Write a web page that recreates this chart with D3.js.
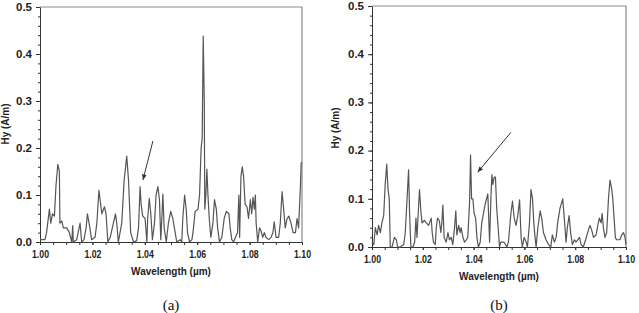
<!DOCTYPE html>
<html>
<head>
<meta charset="utf-8">
<script src="https://cdn.jsdelivr.net/npm/d3@7"></script>
<style>
    body { margin: 0; background: #fff; }
    .axis text { font-family: "Liberation Sans", Arial, sans-serif; font-weight: bold; font-size: 10.5px; fill: #222; }
    .axis path, .axis line { stroke: #333; }
    .axis-title { font-family: "Liberation Sans", Arial, sans-serif; font-weight: bold; font-size: 10px; fill: #222; }
    .caption { font-family: "Liberation Serif", "Times New Roman", serif; font-size: 15px; fill: #111; }
</style>
</head>
<body>
<div id="chart"></div>
<script>

// panel (a): wavelength (um) and Hy (A/m)
let waveA = [1.0000, 1.0019, 1.0025, 1.0036, 1.0041, 1.0048, 1.0055, 1.0061, 1.0068, 1.0074, 1.0076, 1.0083,
    1.0089, 1.0102, 1.0112, 1.0121, 1.0125, 1.0127, 1.0140, 1.0153, 1.0159, 1.0168, 1.0176, 1.0181, 1.0189,
    1.0197, 1.0210, 1.0217, 1.0225, 1.0236, 1.0246, 1.0252, 1.0259, 1.0268, 1.0280, 1.0288, 1.0293, 1.0299,
    1.0312, 1.0321, 1.0331, 1.0338, 1.0346, 1.0357, 1.0369, 1.0376, 1.0382, 1.0386, 1.0392, 1.0401, 1.0408,
    1.0411, 1.0417, 1.0423, 1.0429, 1.0437, 1.0443, 1.0450, 1.0456, 1.0461, 1.0465, 1.0469, 1.0474, 1.0482,
    1.0490, 1.0499, 1.0507, 1.0516, 1.0522, 1.0535, 1.0541, 1.0545, 1.0552, 1.0558, 1.0563, 1.0571, 1.0580,
    1.0586, 1.0592, 1.0603, 1.0609, 1.0615, 1.0619, 1.0623, 1.0627, 1.0629, 1.0633, 1.0637, 1.0641, 1.0646,
    1.0652, 1.0660, 1.0666, 1.0673, 1.0678, 1.0685, 1.0694, 1.0703, 1.0711, 1.0721, 1.0726, 1.0732, 1.0739,
    1.0746, 1.0754, 1.0759, 1.0762, 1.0767, 1.0772, 1.0777, 1.0783, 1.0790, 1.0796, 1.0803, 1.0808, 1.0813,
    1.0818, 1.0822, 1.0825, 1.0831, 1.0838, 1.0843, 1.0850, 1.0856, 1.0862, 1.0873, 1.0882, 1.0889, 1.0894,
    1.0901, 1.0911, 1.0917, 1.0924, 1.0930, 1.0936, 1.0943, 1.0950, 1.0958, 1.0966, 1.0975, 1.0981, 1.0987,
    1.0994, 1.0997, 1.1000];
let hyA = [0.005, 0.005, 0.02, 0.07, 0.04, 0.06, 0.055, 0.12, 0.165, 0.15, 0.04, 0.045,
    0.03, 0.03, 0.02, 0.0, 0.035, 0.0, 0.005, 0.04, 0.0, 0.005, 0.03, 0.06, 0.035,
    0.005, 0.01, 0.04, 0.11, 0.06, 0.075, 0.06, 0.0, 0.01, 0.04, 0.06, 0.04, 0.0,
    0.04, 0.13, 0.183, 0.13, 0.02, 0.0, 0.003, 0.03, 0.118, 0.08, 0.055, 0.05, 0.0,
    0.05, 0.093, 0.06, 0.005, 0.04, 0.1, 0.118, 0.09, 0.005, 0.05, 0.102, 0.03, 0.0,
    0.04, 0.065, 0.05, 0.02, 0.0, 0.005, 0.0, 0.05, 0.1, 0.07, 0.02, 0.0, 0.005,
    0.03, 0.065, 0.07, 0.1, 0.2, 0.22, 0.438, 0.3, 0.07, 0.1, 0.155, 0.1, 0.05,
    0.01, 0.04, 0.09, 0.07, 0.03, 0.0, 0.01, 0.05, 0.065, 0.06, 0.03, 0.005, 0.0,
    0.01, 0.02, 0.1, 0.01, 0.14, 0.16, 0.14, 0.08, 0.075, 0.05, 0.09, 0.06, 0.095,
    0.07, 0.1, 0.04, 0.0, 0.03, 0.025, 0.01, 0.02, 0.01, 0.005, 0.01, 0.02, 0.043,
    0.01, 0.01, 0.04, 0.107, 0.07, 0.03, 0.05, 0.055, 0.04, 0.02, 0.02, 0.05, 0.03,
    0.12, 0.168, 0.17];

// panel (b)
let waveB = [1.0000, 1.0007, 1.0013, 1.0020, 1.0026, 1.0033, 1.0039, 1.0046, 1.0052, 1.0058, 1.0063, 1.0068,
    1.0072, 1.0079, 1.0088, 1.0096, 1.0101, 1.0111, 1.0125, 1.0131, 1.0138, 1.0144, 1.0148, 1.0153, 1.0161,
    1.0168, 1.0173, 1.0177, 1.0181, 1.0187, 1.0193, 1.0197, 1.0206, 1.0214, 1.0223, 1.0233, 1.0237, 1.0242,
    1.0249, 1.0253, 1.0258, 1.0265, 1.0271, 1.0275, 1.0279, 1.0284, 1.0292, 1.0299, 1.0305, 1.0312, 1.0318,
    1.0325, 1.0330, 1.0334, 1.0341, 1.0347, 1.0351, 1.0358, 1.0364, 1.0371, 1.0377, 1.0384, 1.0388, 1.0392,
    1.0397, 1.0402, 1.0408, 1.0413, 1.0419, 1.0426, 1.0432, 1.0439, 1.0446, 1.0456, 1.0463, 1.0468, 1.0472,
    1.0476, 1.0481, 1.0486, 1.0491, 1.0498, 1.0502, 1.0507, 1.0520, 1.0531, 1.0537, 1.0547, 1.0553, 1.0560,
    1.0567, 1.0574, 1.0581, 1.0587, 1.0592, 1.0599, 1.0607, 1.0612, 1.0620, 1.0626, 1.0632, 1.0637, 1.0642,
    1.0646, 1.0653, 1.0662, 1.0668, 1.0675, 1.0685, 1.0695, 1.0704, 1.0710, 1.0718, 1.0725, 1.0731, 1.0740,
    1.0751, 1.0757, 1.0764, 1.0769, 1.0776, 1.0782, 1.0789, 1.0797, 1.0803, 1.0810, 1.0817, 1.0823, 1.0832,
    1.0841, 1.0852, 1.0858, 1.0865, 1.0872, 1.0882, 1.0889, 1.0895, 1.0902, 1.0906, 1.0911, 1.0917, 1.0924,
    1.0931, 1.0937, 1.0944, 1.0948, 1.0953, 1.0958, 1.0963, 1.0970, 1.0976, 1.0983, 1.0990, 1.0996, 1.1000];
let hyB = [0.01, 0.005, 0.04, 0.025, 0.045, 0.03, 0.05, 0.065, 0.13, 0.172, 0.12, 0.1,
    0.0, 0.0, 0.02, 0.015, 0.0, 0.0, 0.005, 0.03, 0.1, 0.16, 0.07, 0.0, 0.0,
    0.01, 0.06, 0.02, 0.06, 0.119, 0.07, 0.05, 0.055, 0.05, 0.045, 0.06, 0.03, 0.01,
    0.005, 0.04, 0.06, 0.055, 0.03, 0.05, 0.087, 0.02, 0.01, 0.03, 0.015, 0.02, 0.005,
    0.04, 0.075, 0.025, 0.045, 0.03, 0.04, 0.02, 0.01, 0.015, 0.02, 0.09, 0.191, 0.1,
    0.1, 0.07, 0.06, 0.02, 0.0, 0.01, 0.05, 0.07, 0.09, 0.11, 0.01, 0.1, 0.15,
    0.13, 0.145, 0.145, 0.08, 0.03, 0.0, 0.01, 0.01, 0.0, 0.01, 0.07, 0.095, 0.06,
    0.045, 0.065, 0.098, 0.02, 0.0, 0.02, 0.01, 0.0, 0.05, 0.119, 0.1, 0.05, 0.02,
    0.0, 0.04, 0.075, 0.06, 0.03, 0.015, 0.005, 0.0, 0.025, 0.01, 0.02, 0.05, 0.08,
    0.1, 0.06, 0.01, 0.04, 0.065, 0.03, 0.005, 0.015, 0.01, 0.015, 0.02, 0.005, 0.0,
    0.015, 0.035, 0.045, 0.035, 0.02, 0.025, 0.045, 0.06, 0.05, 0.07, 0.04, 0.02, 0.03,
    0.1, 0.139, 0.12, 0.1, 0.06, 0.02, 0.015, 0.015, 0.015, 0.025, 0.03, 0.02, 0.005];

// arrows: [tail wavelength, tail value, head wavelength, head value]
let arrowA = [1.0431, 0.215, 1.0393, 0.132];
let arrowB = [1.0547, 0.238, 1.0416, 0.155];

let yTicks = [0.0, 0.1, 0.2, 0.3, 0.4, 0.5];
let xTicks = [1.00, 1.02, 1.04, 1.06, 1.08, 1.10];

class SpectrumVis {

    constructor(svg, wave, hy, arrow, caption, box) {
        this.svg = svg;
        this.data = wave.map((w, i) => ({w: w, v: hy[i]}));
        this.arrow = arrow;
        this.caption = caption;
        this.box = box;

        this.initVis();
    }

    initVis() {
        let vis = this;
        let b = vis.box;

        vis.g = vis.svg.append("g")
            .attr("transform", `translate(${b.left}, ${b.top})`);

        vis.x = d3.scaleLinear().domain([1.00, 1.10]).range([0, b.width]);
        vis.y = d3.scaleLinear().domain([0, 0.5]).range([b.height, 0]);

        // frame on top and right
        vis.g.append("path")
            .attr("d", `M0,0H${b.width}V${b.height}`)
            .attr("fill", "none")
            .attr("stroke", "#8a8a8a")
            .attr("stroke-width", 1.2);

        // minor ticks
        vis.g.append("g")
            .attr("class", "axis")
            .attr("transform", `translate(0, ${b.height})`)
            .call(d3.axisBottom(vis.x).tickValues(d3.range(0, 21).map(i => 1 + i * 0.005)).tickSize(3).tickFormat(""))
            .call(g => g.select(".domain").remove());
        vis.g.append("g")
            .attr("class", "axis")
            .call(d3.axisLeft(vis.y).tickValues(d3.range(0, 26).map(i => i * 0.02)).tickSize(2).tickFormat(""))
            .call(g => g.select(".domain").remove());

        // major axes
        vis.g.append("g")
            .attr("class", "axis")
            .attr("transform", `translate(0, ${b.height})`)
            .call(d3.axisBottom(vis.x).tickValues(xTicks).tickSize(3).tickSizeOuter(0).tickPadding(6).tickFormat(d3.format(".2f")))
            .call(g => g.selectAll("text").attr("textLength", 17).attr("lengthAdjust", "spacingAndGlyphs"));
        vis.g.append("g")
            .attr("class", "axis")
            .call(d3.axisLeft(vis.y).tickValues(yTicks).tickSize(4).tickSizeOuter(0).tickPadding(4).tickFormat(d3.format(".1f")))
            .call(g => g.selectAll("text").attr("textLength", 16).attr("lengthAdjust", "spacingAndGlyphs"));

        // curve
        vis.line = d3.line().x(d => vis.x(d.w)).y(d => vis.y(d.v));
        vis.g.append("path")
            .datum(vis.data)
            .attr("d", vis.line)
            .attr("fill", "none")
            .attr("stroke", "#555")
            .attr("stroke-width", 1.2)
            .attr("stroke-linejoin", "round");

        // arrow
        let a = vis.arrow;
        let x1 = vis.x(a[0]), y1 = vis.y(a[1]), x2 = vis.x(a[2]), y2 = vis.y(a[3]);
        let ang = Math.atan2(y2 - y1, x2 - x1);
        vis.g.append("line")
            .attr("x1", x1).attr("y1", y1).attr("x2", x2).attr("y2", y2)
            .attr("stroke", "#333").attr("stroke-width", 1);
        let hl = 6, hw = 0.4;
        vis.g.append("path")
            .attr("d", `M${x2},${y2}L${x2 - hl * Math.cos(ang - hw)},${y2 - hl * Math.sin(ang - hw)}L${x2 - hl * Math.cos(ang + hw)},${y2 - hl * Math.sin(ang + hw)}Z`)
            .attr("fill", "#333");

        // titles
        vis.g.append("text")
            .attr("class", "axis-title")
            .attr("text-anchor", "middle")
            .attr("x", b.width / 2)
            .attr("y", b.height + b.xTitle)
            .text("Wavelength (\u00b5m)");
        vis.g.append("text")
            .attr("class", "axis-title")
            .attr("text-anchor", "middle")
            .attr("transform", `translate(${b.yTitle}, ${b.yTitleY}) rotate(-90)`)
            .text("Hy (A/m)");
        vis.svg.append("text")
            .attr("class", "caption")
            .attr("text-anchor", "middle")
            .attr("x", b.left + b.width / 2)
            .attr("y", 310)
            .text(vis.caption);
    }
}

let svg = d3.select("#chart").append("svg")
    .attr("width", 639)
    .attr("height", 313);

new SpectrumVis(svg, waveA, hyA, arrowA, "(a)",
    {left: 40, top: 7, width: 262, height: 235, xTitle: 33, yTitle: -31, yTitleY: 117});
new SpectrumVis(svg, waveB, hyB, arrowB, "(b)",
    {left: 372, top: 6, width: 254, height: 241, xTitle: 33, yTitle: -33, yTitleY: 122});

</script>
</body>
</html>
